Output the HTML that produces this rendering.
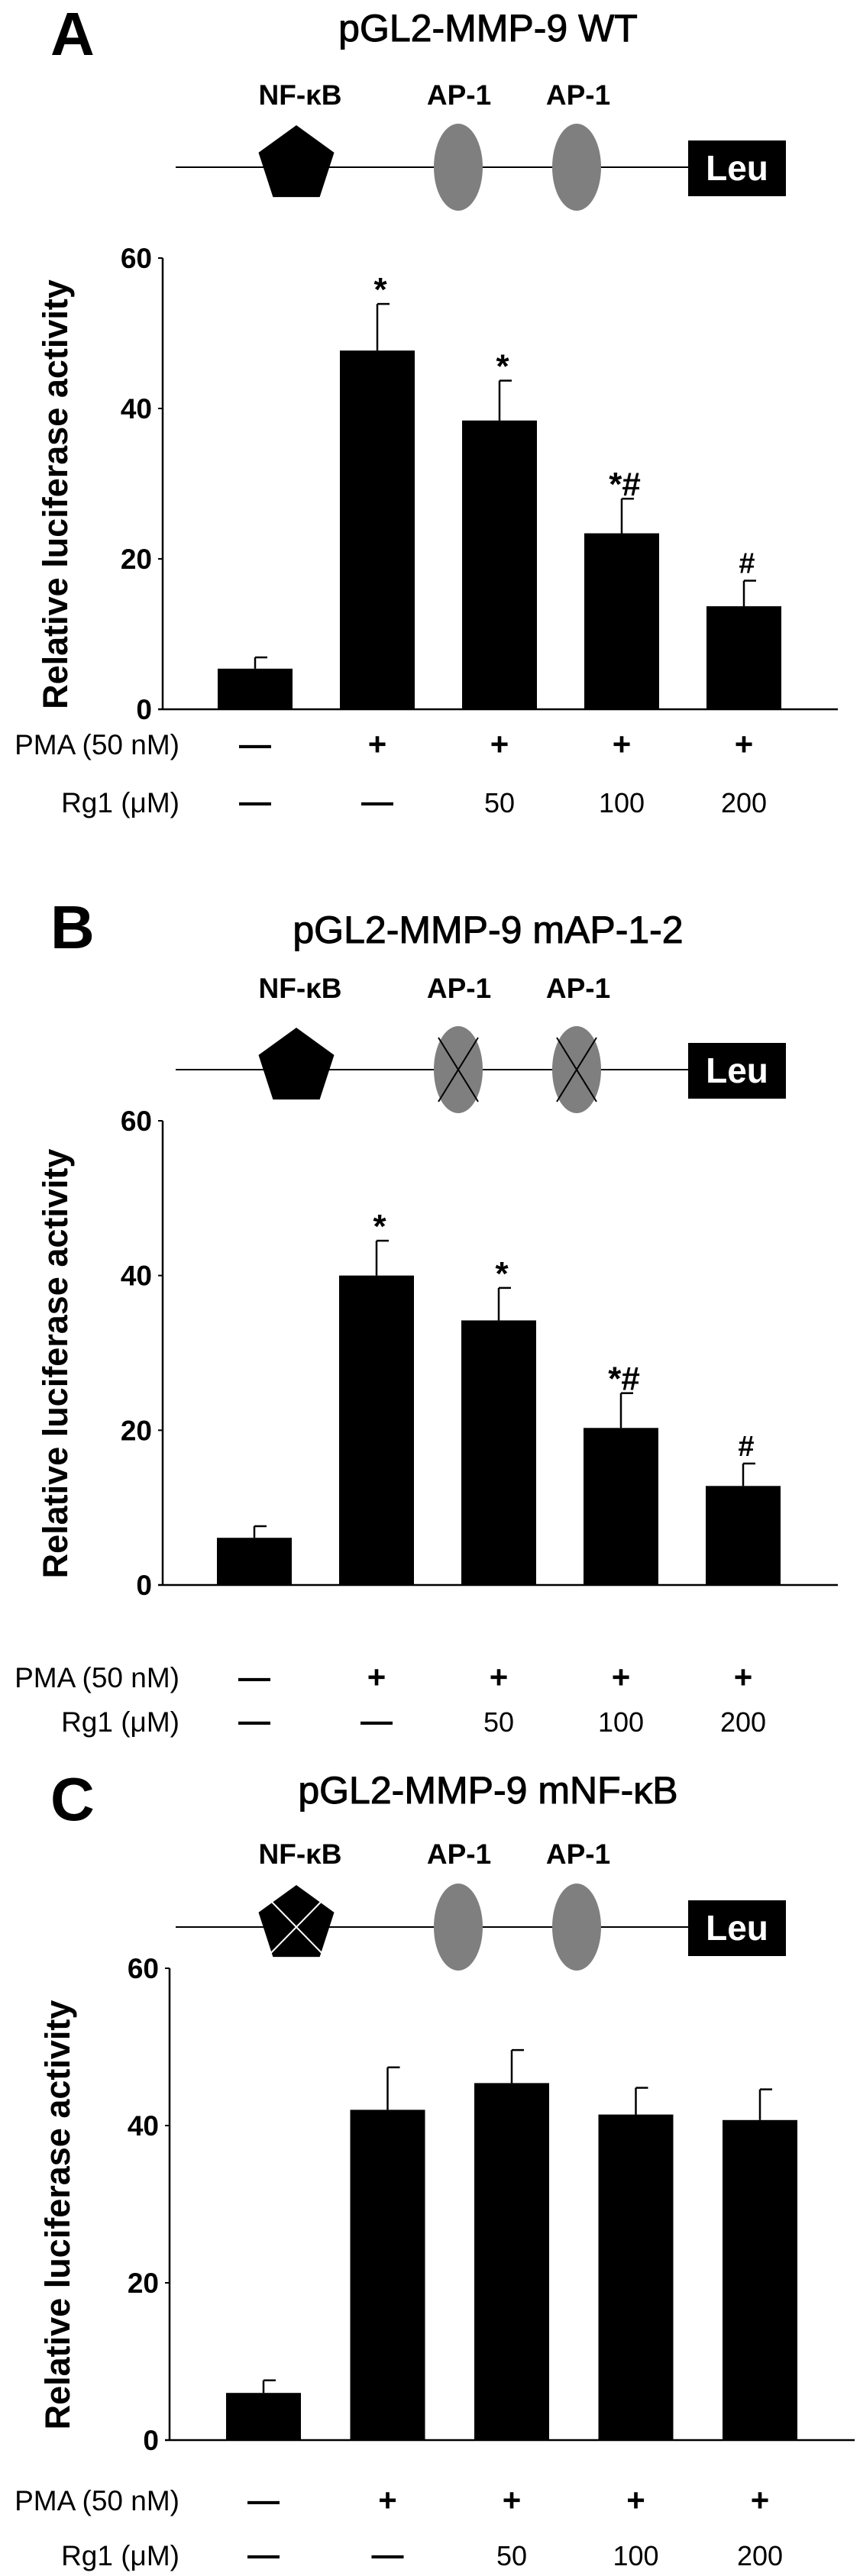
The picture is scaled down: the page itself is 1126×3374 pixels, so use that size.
<!DOCTYPE html>
<html><head><meta charset="utf-8"><style>
html,body{margin:0;padding:0;background:#fff}
svg{display:block;font-family:"Liberation Sans",Arial,sans-serif}
</style></head><body>
<svg id="fig" width="1126" height="3374" viewBox="0 0 1126 3374" xmlns="http://www.w3.org/2000/svg"></svg>
<script>
// ---- data ----
const categories = ["control","PMA","PMA+Rg1 50","PMA+Rg1 100","PMA+Rg1 200"];
const pmaLabels = ["—","+","+","+","+"];
const rg1Labels = ["—","—","50","100","200"];
const yTicks = [0,20,40,60];
const valuesA = [5.4,47.7,38.4,23.4,13.7];
const errorsA = [1.5,6.2,5.3,4.6,3.4];
const marksA = ["","*","*","*#","#"];
const valuesB = [6.1,40.0,34.2,20.3,12.8];
const errorsB = [1.5,4.5,4.2,4.5,2.9];
const marksB = ["","*","*","*#","#"];
const valuesC = [6.0,42.0,45.4,41.4,40.7];
const errorsC = [1.6,5.4,4.2,3.4,3.9];
const marksC = ["","","","",""];

const svg = document.getElementById('fig');
const NS = "http://www.w3.org/2000/svg";
function mk(tag, attrs, text){
  const e = document.createElementNS(NS, tag);
  for (const k in attrs) e.setAttribute(k, attrs[k]);
  if (text !== undefined) e.textContent = text;
  svg.appendChild(e);
  return e;
}

function panel(p){
  let e;
  e = mk('text',{x:p.letterX,y:p.letterY,'font-size':80,'font-weight':'bold',fill:'#000'},p.letter);
  
  
  e = mk('text',{x:639,y:p.titleY,'font-size':50,'text-anchor':'middle',fill:'#000',stroke:'#000','stroke-width':1},p.title);
  
  
  const ly = p.lineY;
  e = mk('line',{x1:230,y1:ly,x2:902,y2:ly,stroke:'#000','stroke-width':2});
  
  
  [['NF-κB',393],['AP-1',601],['AP-1',757]].forEach(([t,x])=>{
    const l = mk('text',{x:x,y:p.siteLabelY,'font-size':37,'font-weight':'bold','text-anchor':'middle',fill:'#000'},t);
    
    
  });
  const cx=388, cy=ly-3, r=52;
  let pts=[];
  for(let i=0;i<5;i++){const a=-Math.PI/2+i*2*Math.PI/5;pts.push((cx+r*Math.cos(a)).toFixed(1)+','+(cy+r*Math.sin(a)).toFixed(1));}
  e = mk('polygon',{points:pts.join(' '),fill:'#000'});
  
  
  if(p.mutNF){
    mk('line',{x1:cx-44,y1:cy-42,x2:cx+44,y2:cy+48,stroke:'#fff','stroke-width':2});
    mk('line',{x1:cx+44,y1:cy-42,x2:cx-44,y2:cy+48,stroke:'#fff','stroke-width':2});
  }
  [600,755].forEach(x=>{
    const el = mk('ellipse',{cx:x,cy:ly,rx:32,ry:57,fill:'#7f7f7f'});
    
    
    if(p.mutAP){
      mk('line',{x1:x-26,y1:ly-42,x2:x+26,y2:ly+42,stroke:'#000','stroke-width':2});
      mk('line',{x1:x+26,y1:ly-42,x2:x-26,y2:ly+42,stroke:'#000','stroke-width':2});
    }
  });
  e = mk('rect',{x:901,y:ly-35,width:128,height:73,fill:'#000'});
  
  
  e = mk('text',{x:965,y:ly+17,'font-size':46,'font-weight':'bold','text-anchor':'middle',fill:'#fff'},'Leu');
  
  
  const y = v => p.y0 - v*(p.y0-p.y60)/60;
  const ax = p.axisX;
  e = mk('line',{x1:ax,y1:p.y60,x2:ax,y2:p.y0,stroke:'#000','stroke-width':2.5});
  
  
  e = mk('line',{x1:ax-6,y1:p.y0,x2:p.axisEnd,y2:p.y0,stroke:'#000','stroke-width':2.5});
  
  
  yTicks.forEach(t=>{
    mk('line',{x1:ax-6,y1:y(t),x2:ax,y2:y(t),stroke:'#000','stroke-width':2});
    const tl = mk('text',{x:ax-14,y:y(t)+13,'font-size':37,'font-weight':'bold','text-anchor':'end',fill:'#000'},String(t));
    
    
  });
  e = mk('text',{x:0,y:0,'font-size':45,'font-weight':'bold','text-anchor':'middle',fill:'#000',transform:`translate(${p.titleX},${(p.y0+p.y60)/2+14}) rotate(-90)`},'Relative luciferase activity');
  
  
  const bw = 98;
  categories.forEach((c,i)=>{
    const xc = p.x0 + i*p.step;
    const v = p.values[i], er = p.errors[i];
    const b = mk('rect',{x:xc-bw/2,y:y(v),width:bw,height:p.y0-y(v),fill:'#000'});
    
    
    const eb = mk('line',{x1:xc,y1:y(v),x2:xc,y2:y(v+er),stroke:'#000','stroke-width':2.5});
    
    
    mk('line',{x1:xc,y1:y(v+er),x2:xc+16,y2:y(v+er),stroke:'#000','stroke-width':2.5});
    if(p.marks[i]){
      const m = mk('text',{x:xc+4,y:y(v+er)-(p.marks[i]==='#'?10:4),'font-size':p.marks[i]==='#'?38:44,'font-weight':'bold','text-anchor':'middle',fill:'#000'},p.marks[i]);
      
      
    }
    const pm = mk('text',{x:xc,y:p.pmaY+14,'font-size':42,'font-weight':'bold','text-anchor':'middle',fill:'#000'},pmaLabels[i]);
    
    
    const rl = rg1Labels[i];
    const rg = mk('text',{x:xc,y:p.rgY+13,'font-size':rl==='—'?42:36,'font-weight':rl==='—'?'bold':'normal','text-anchor':'middle',fill:'#000'},rl);
    
    
  });
  e = mk('text',{x:235,y:p.pmaY+13,'font-size':37,'text-anchor':'end',fill:'#000'},'PMA (50 nM)');
  
  
  e = mk('text',{x:235,y:p.rgY+13,'font-size':37,'text-anchor':'end',fill:'#000'},'Rg1 (μM)');
  
  
}

panel({letter:'A',letterX:66,letterY:72,title:'pGL2-MMP-9 WT',titleY:54,siteLabelY:137,lineY:219,
  axisX:213,axisEnd:1097,y0:929,y60:338,x0:334,step:160,titleX:88,
  values:valuesA,errors:errorsA,marks:marksA,pmaY:975,rgY:1051,mutNF:false,mutAP:false});
panel({letter:'B',letterX:66,letterY:1242,title:'pGL2-MMP-9 mAP-1-2',titleY:1235,siteLabelY:1307,lineY:1401,
  axisX:213,axisEnd:1097,y0:2076,y60:1468,x0:333,step:160,titleX:88,
  values:valuesB,errors:errorsB,marks:marksB,pmaY:2197,rgY:2255,mutNF:false,mutAP:true});
panel({letter:'C',letterX:66,letterY:2384,title:'pGL2-MMP-9 mNF-κB',titleY:2362,siteLabelY:2441,lineY:2524,
  axisX:222,axisEnd:1119,y0:3196,y60:2578,x0:345,step:162.5,titleX:91,
  values:valuesC,errors:errorsC,marks:marksC,pmaY:3275,rgY:3347,mutNF:true,mutAP:false});
</script>
</body></html>
